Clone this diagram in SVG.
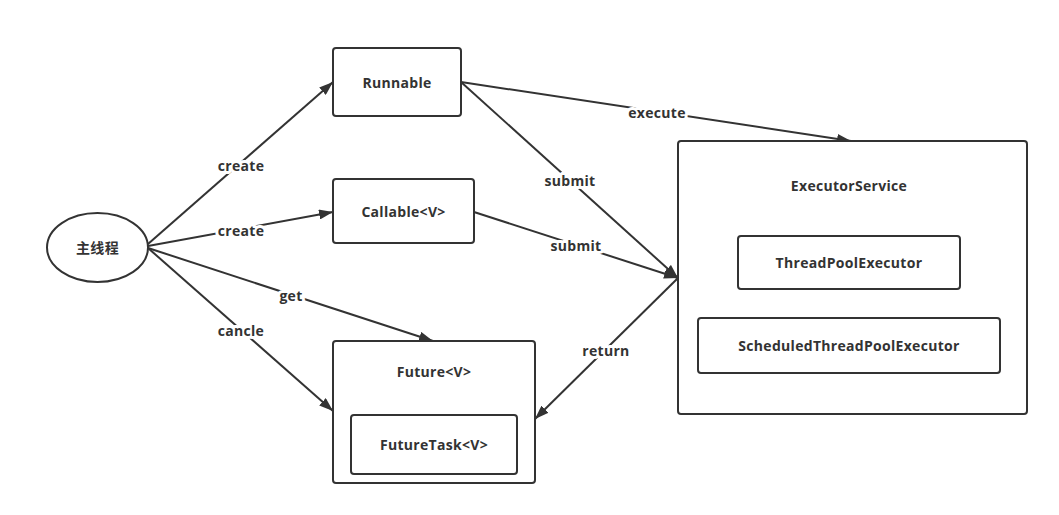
<svg xmlns="http://www.w3.org/2000/svg" width="1059" height="515" viewBox="0 0 1059 515">
<style>
.n{fill:#fff;stroke:#333;stroke-width:2}
.t{font-family:"Open Sans","Noto Sans CJK SC",sans-serif;font-weight:bold;font-size:14px;letter-spacing:0.3px;fill:#333;text-anchor:middle;dominant-baseline:central}
.c{stroke:#333;stroke-width:2;fill:none;marker-end:url(#a)}
.l{font-family:"Open Sans",sans-serif;font-weight:bold;font-size:14px;letter-spacing:0.3px;fill:#333;text-anchor:middle;dominant-baseline:central;stroke:#fff;stroke-width:6;paint-order:stroke;stroke-linejoin:round}
</style>
<defs>
<marker id="a" viewBox="0 0 14 10" refX="14" refY="5" markerWidth="14" markerHeight="10" markerUnits="userSpaceOnUse" orient="auto">
<path d="M0,0 L14,5 L0,10 Z" fill="#333"/>
</marker>
</defs>
<rect width="1059" height="515" fill="#fff"/>
<g id="connectors">
<path class="c" d="M148,244 L333,82"/>
<path class="c" d="M148,246 L333,212"/>
<path class="c" d="M148,248 L433,341"/>
<path class="c" d="M148,248 L333,411"/>
<path class="c" d="M461,82 L851,141"/>
<path class="c" d="M461,82 L678,278"/>
<path class="c" d="M474,212 L678,278"/>
<path class="c" d="M678,278 L535,419"/>
<text class="l" x="241" y="165">create</text>
<text class="l" x="241" y="230">create</text>
<text class="l" x="291" y="295">get</text>
<text class="l" x="241" y="330">cancle</text>
<text class="l" x="657" y="112">execute</text>
<text class="l" x="570" y="180">submit</text>
<text class="l" x="576" y="245">submit</text>
<text class="l" x="606" y="350">return</text>
</g>
<g id="main">
<ellipse class="n" cx="97.5" cy="247.5" rx="50.5" ry="34.5"/>
<text class="t" x="97.5" y="247.5">主线程</text>
</g>
<g id="runnable">
<rect class="n" x="333" y="48" width="128" height="68" rx="3"/>
<text class="t" x="397" y="82">Runnable</text>
</g>
<g id="callable">
<rect class="n" x="333" y="179" width="141" height="64" rx="3"/>
<text class="t" x="403.5" y="211">Callable&lt;V&gt;</text>
</g>
<g id="future">
<rect class="n" x="333" y="341" width="202" height="142" rx="3"/>
<text class="t" x="434" y="371">Future&lt;V&gt;</text>
</g>
<g id="futuretask">
<rect class="n" x="351" y="415" width="166" height="59" rx="3"/>
<text class="t" x="434" y="444">FutureTask&lt;V&gt;</text>
</g>
<g id="executorservice">
<rect class="n" x="678" y="141" width="349" height="273" rx="3"/>
<text class="t" x="849" y="185">ExecutorService</text>
</g>
<g id="threadpool">
<rect class="n" x="738" y="236" width="222" height="53" rx="3"/>
<text class="t" x="849" y="262">ThreadPoolExecutor</text>
</g>
<g id="scheduled">
<rect class="n" x="698" y="318" width="302" height="55" rx="3"/>
<text class="t" x="849" y="345">ScheduledThreadPoolExecutor</text>
</g>
</svg>
